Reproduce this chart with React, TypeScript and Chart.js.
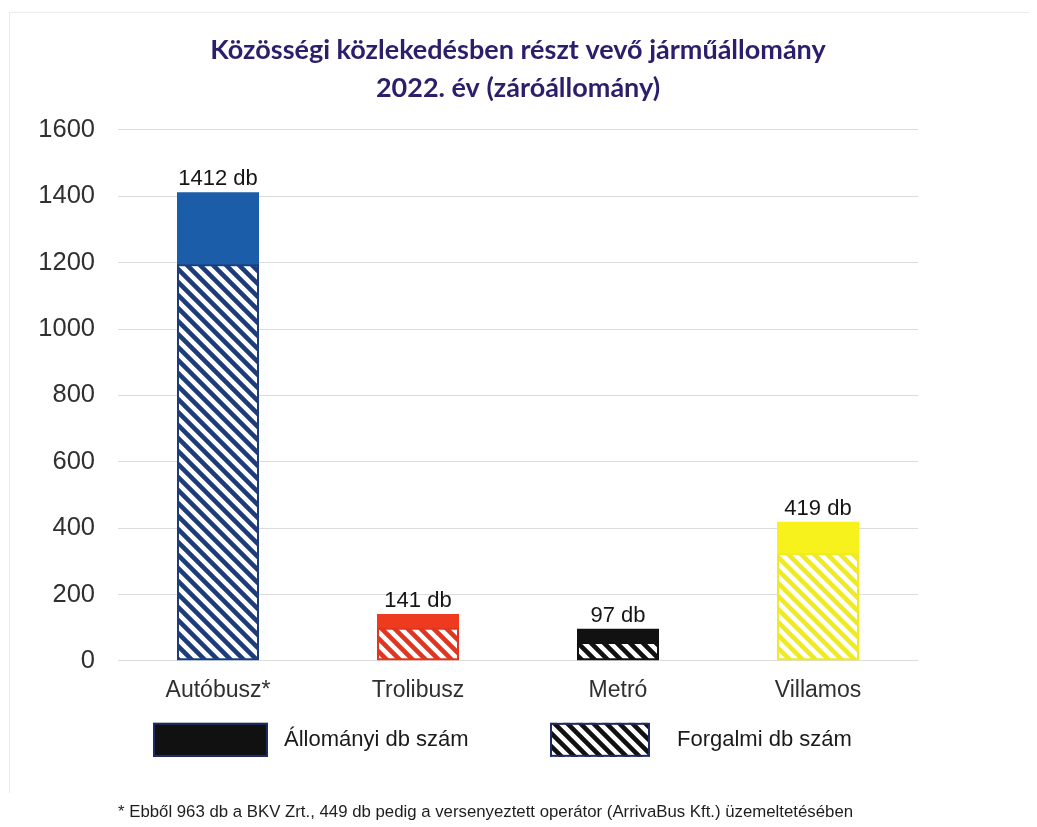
import React, { useEffect, useRef } from 'react';
import { Chart, registerables } from 'chart.js';

Chart.register(...registerables);

const categories = ['Autóbusz*', 'Trolibusz', 'Metró', 'Villamos'];
const allomanyiValues = [1412, 141, 97, 419];
const forgalmiValues = [1195, 100, 57, 324];
const yMin = 0;
const yMax = 1600;
const yStep = 200;
const titleLines = ['Közösségi közlekedésben részt vevő járműállomány', '2022. év (záróállomány)'];
const legendLabels = ['Állományi db szám', 'Forgalmi db szám'];
const unitLabel = 'db';
const footnote = '* Ebből 963 db a BKV Zrt., 449 db pedig a versenyeztett operátor (ArrivaBus Kft.) üzemeltetésében';

const solidColors = ['#1c5daa', '#ee3b1f', '#111111', '#f7f21c'];
const hatchColors = ['#1f3c7a', '#e0351f', '#111111', '#eeea26'];
const legendBorder = '#1e2a66';

const SANS = '"Liberation Sans", Arial, sans-serif';

function makeHatch(color: string, size = 13, lw = 4.6): CanvasPattern {
  const c = document.createElement('canvas');
  c.width = size;
  c.height = size;
  const g = c.getContext('2d') as CanvasRenderingContext2D;
  g.fillStyle = '#ffffff';
  g.fillRect(0, 0, size, size);
  g.strokeStyle = color;
  g.lineWidth = lw;
  g.beginPath();
  for (const k of [-size, 0, size]) {
    g.moveTo(k - 3, -3);
    g.lineTo(k + size + 3, size + 3);
  }
  g.stroke();
  return g.createPattern(c, 'repeat') as CanvasPattern;
}

const valueLabelPlugin = {
  id: 'valueLabels',
  afterDatasetsDraw(chart: any) {
    const ctx = chart.ctx as CanvasRenderingContext2D;
    const meta = chart.getDatasetMeta(0);
    ctx.save();
    ctx.font = `22px ${SANS}`;
    ctx.fillStyle = '#151515';
    ctx.textAlign = 'center';
    ctx.textBaseline = 'alphabetic';
    meta.data.forEach((el: any, i: number) => {
      ctx.fillText(`${allomanyiValues[i]} ${unitLabel}`, el.x, el.y - 7);
    });
    ctx.restore();
  },
};

const legendPlugin = {
  id: 'customLegend',
  afterDraw(chart: any) {
    const ctx = chart.ctx as CanvasRenderingContext2D;
    const area = chart.chartArea;
    const top = area.bottom + 62;
    const h = 34;
    const items = [
      { x: area.left + 35, w: 115, tx: area.left + 166, fill: '#111111' as string | CanvasPattern },
      { x: area.left + 432, w: 100, tx: area.left + 559, fill: makeHatch('#111111') as string | CanvasPattern },
    ];
    ctx.save();
    items.forEach((it, i) => {
      ctx.fillStyle = it.fill as any;
      ctx.fillRect(it.x, top, it.w, h);
      ctx.strokeStyle = legendBorder;
      ctx.lineWidth = 2;
      ctx.strokeRect(it.x + 1, top + 1, it.w - 2, h - 2);
      ctx.font = `22px ${SANS}`;
      ctx.fillStyle = '#1a1a1a';
      ctx.textAlign = 'left';
      ctx.textBaseline = 'middle';
      ctx.fillText(legendLabels[i], it.tx, top + h / 2);
    });
    ctx.restore();
  },
};

export default function App() {
  const ref = useRef<HTMLCanvasElement | null>(null);

  useEffect(() => {
    const canvas = ref.current;
    if (!canvas) return;
    const hatches = hatchColors.map((c) => makeHatch(c));
    const chart = new Chart(canvas, {
      type: 'bar',
      data: {
        labels: categories,
        datasets: [
          {
            label: legendLabels[0],
            data: allomanyiValues,
            backgroundColor: solidColors,
            borderWidth: 0,
            order: 1,
            grouped: false,
            barPercentage: 0.41,
            categoryPercentage: 1,
          } as any,
          {
            label: legendLabels[1],
            data: forgalmiValues,
            backgroundColor: hatches,
            borderColor: hatchColors,
            borderWidth: 2,
            borderSkipped: false,
            order: 0,
            grouped: false,
            barPercentage: 0.41,
            categoryPercentage: 1,
          } as any,
        ],
      },
      options: {
        responsive: false,
        animation: false,
        layout: { padding: { left: 0, right: 119, top: 0, bottom: 0 } },
        plugins: {
          legend: { display: false },
          tooltip: { enabled: false },
          title: {
            display: true,
            text: titleLines,
            fullSize: false,
            color: '#2d1e6b',
            font: { family: 'Lato, "Open Sans", sans-serif', size: 27, weight: 'bold', lineHeight: 1.4074 },
            padding: { top: 31, bottom: 23 },
          },
          subtitle: {
            display: true,
            text: footnote,
            position: 'bottom',
            fullSize: false,
            align: 'start',
            color: '#1e1e1e',
            font: { family: SANS, size: 16.8, lineHeight: 1.2 },
            padding: { top: 35, bottom: 5 },
          },
        },
        scales: {
          x: {
            grid: { display: false, drawTicks: false },
            border: { display: false },
            ticks: { color: '#303030', font: { family: SANS, size: 23 }, padding: 16 },
            afterFit: (s: any) => {
              s.height = 106;
            },
          },
          y: {
            min: yMin,
            max: yMax,
            grid: { color: '#dcdcdc', lineWidth: 1, drawTicks: false },
            border: { display: false },
            ticks: {
              stepSize: yStep,
              color: '#303030',
              font: { family: SANS, size: 25.5 },
              padding: 23,
              callback: (v: any) => String(v),
            },
            afterFit: (s: any) => {
              s.width = 118;
            },
          },
        },
      },
      plugins: [valueLabelPlugin, legendPlugin],
    });
    return () => chart.destroy();
  }, []);

  return (
    <div style={{ position: 'absolute', left: 0, top: 0, width: 1037, height: 827, background: '#ffffff' }}>
      <div
        style={{
          position: 'absolute',
          left: 9,
          top: 12,
          width: 1020,
          height: 780,
          borderLeft: '1px solid #ececec',
          borderTop: '1px solid #ececec',
          pointerEvents: 'none',
        }}
      />
      <canvas ref={ref} width={1037} height={827} style={{ position: 'absolute', left: 0, top: 0, width: 1037, height: 827 }} />
    </div>
  );
}
